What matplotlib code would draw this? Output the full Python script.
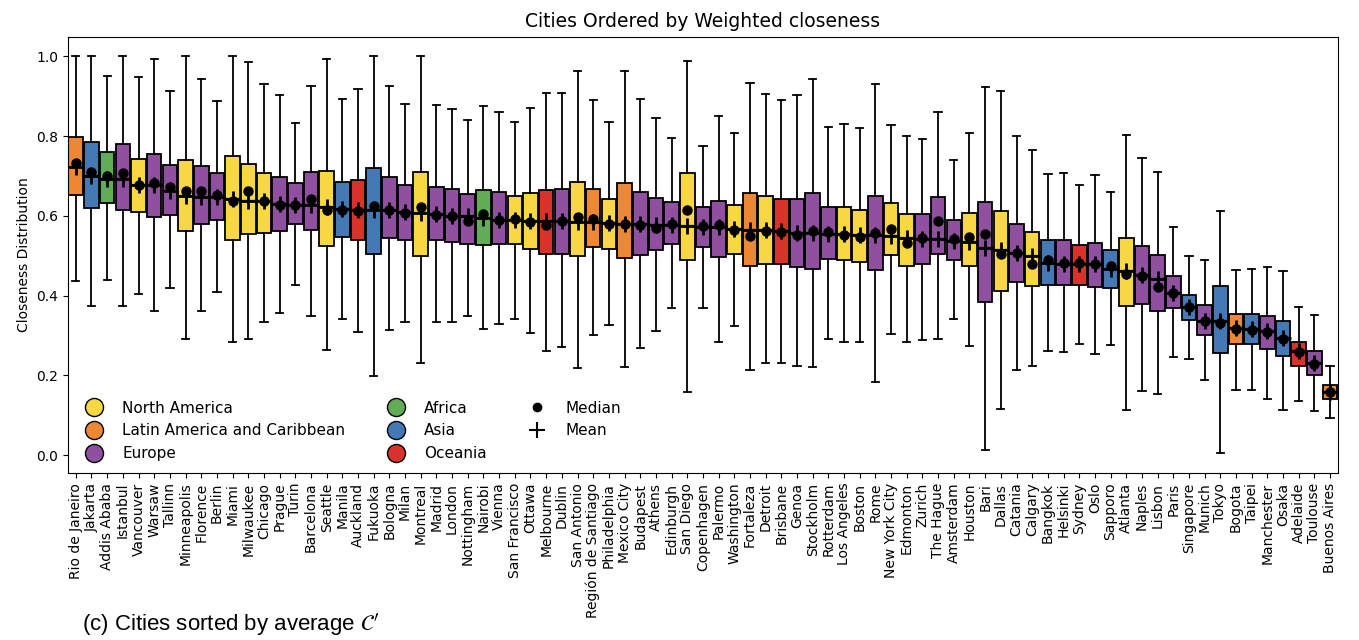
import matplotlib
matplotlib.use("Agg")
import matplotlib.pyplot as plt
from matplotlib.lines import Line2D

# cities in order (sorted by mean weighted closeness)
cities = ["Rio de Janeiro", "Jakarta", "Addis Ababa", "Istanbul", "Vancouver", "Warsaw", "Tallinn",
          "Minneapolis", "Florence", "Berlin", "Miami", "Milwaukee", "Chicago", "Prague", "Turin",
          "Barcelona", "Seattle", "Manila", "Auckland", "Fukuoka", "Bologna", "Milan", "Montreal",
          "Madrid", "London", "Nottingham", "Nairobi", "Vienna", "San Francisco", "Ottawa", "Melbourne",
          "Dublin", "San Antonio", "Región de Santiago", "Philadelphia", "Mexico City", "Budapest",
          "Athens", "Edinburgh", "San Diego", "Copenhagen", "Palermo", "Washington", "Fortaleza",
          "Detroit", "Brisbane", "Genoa", "Stockholm", "Rotterdam", "Los Angeles", "Boston", "Rome",
          "New York City", "Edmonton", "Zurich", "The Hague", "Amsterdam", "Houston", "Bari", "Dallas",
          "Catania", "Calgary", "Bangkok", "Helsinki", "Sydney", "Oslo", "Sapporo", "Atlanta", "Naples",
          "Lisbon", "Paris", "Singapore", "Munich", "Tokyo", "Bogota", "Taipei", "Manchester", "Osaka",
          "Adelaide", "Toulouse", "Buenos Aires"]

region = ["LA", "AS", "AF", "EU", "NA", "EU", "EU",
          "NA", "EU", "EU", "NA", "NA", "NA", "EU", "EU",
          "EU", "NA", "AS", "OC", "AS", "EU", "EU", "NA",
          "EU", "EU", "EU", "AF", "EU", "NA", "NA", "OC",
          "EU", "NA", "LA", "NA", "LA", "EU",
          "EU", "EU", "NA", "EU", "EU", "NA", "LA",
          "NA", "OC", "EU", "EU", "EU", "NA", "NA", "EU",
          "NA", "NA", "EU", "EU", "EU", "NA", "EU", "NA",
          "EU", "NA", "AS", "EU", "OC", "EU", "AS", "NA", "EU",
          "EU", "EU", "AS", "EU", "AS", "LA", "AS", "EU", "AS",
          "OC", "EU", "LA"]

whis_hi = [1.0, 1.0, .951, 1.0, .947, .993, .912, 1.0, .942, .888, 1.0, .985, .931, .904, .833,
           .926, .993, .893, .917, 1.0, .926, .881, 1.0, .878, .868, .839, .875, .860, .835, .870,
           .907, .909, .963, .891, .835, .963, .894, .845, .795, .988, .774, .851, .808, .933, .906,
           .890, .904, .943, .823, .830, .819, .931, .827, .801, .793, .860, .739, .808, .923, .912,
           .801, .764, .705, .707, .678, .701, .659, .802, .745, .710, .572, .498, .488, .613, .463,
           .467, .472, .461, .370, .350, .224]
q3 = [.797, .785, .759, .779, .743, .755, .727, .741, .726, .707, .751, .731, .707, .697, .681,
      .709, .712, .685, .689, .721, .696, .676, .709, .672, .666, .655, .665, .660, .649, .657,
      .664, .667, .684, .668, .643, .681, .659, .645, .635, .706, .622, .638, .626, .657, .649,
      .641, .642, .657, .623, .623, .615, .649, .631, .605, .604, .647, .590, .607, .634, .611,
      .580, .559, .539, .539, .526, .532, .513, .544, .525, .501, .450, .402, .375, .423, .354,
      .353, .348, .335, .283, .260, .175]
q1 = [.651, .620, .632, .615, .610, .597, .603, .563, .580, .590, .539, .555, .557, .561, .580,
      .565, .523, .547, .539, .503, .544, .540, .498, .539, .534, .530, .526, .528, .528, .517,
      .503, .505, .498, .522, .517, .493, .502, .513, .529, .488, .522, .497, .505, .475, .480,
      .479, .471, .467, .492, .488, .483, .463, .501, .475, .479, .505, .490, .475, .384, .411,
      .433, .423, .427, .427, .427, .421, .418, .373, .379, .362, .369, .338, .300, .256, .279,
      .279, .266, .248, .224, .200, .141]
whis_lo = [.436, .373, .440, .373, .405, .360, .419, .291, .360, .409, .283, .292, .333, .355, .426,
           .348, .264, .340, .309, .197, .313, .334, .231, .334, .334, .348, .317, .329, .342, .306,
           .262, .271, .219, .300, .325, .220, .268, .312, .369, .159, .369, .283, .323, .212, .231,
           .231, .224, .220, .292, .283, .283, .183, .304, .283, .289, .292, .341, .273, .013, .116,
           .214, .222, .260, .258, .278, .254, .275, .114, .160, .154, .246, .242, .189, .005, .164,
           .164, .141, .114, .136, .110, .093]
medians = [.733, .711, .699, .707, .676, .682, .672, .661, .661, .651, .638, .661, .638, .626, .626,
           .643, .614, .615, .611, .624, .614, .607, .622, .603, .599, .588, .605, .589, .593, .584,
           .578, .586, .596, .593, .580, .580, .576, .569, .580, .615, .574, .578, .565, .550, .561,
           .559, .553, .561, .559, .553, .546, .557, .568, .532, .544, .586, .542, .546, .555, .505,
           .507, .478, .488, .482, .482, .478, .473, .454, .448, .421, .406, .370, .335, .331, .316,
           .314, .308, .291, .258, .228, .158]
means = [.722, .699, .693, .692, .676, .676, .661, .649, .647, .646, .643, .636, .636, .629, .626,
         .626, .622, .617, .615, .614, .614, .610, .607, .605, .600, .599, .595, .590, .590, .586,
         .588, .586, .584, .584, .582, .580, .580, .578, .576, .574, .572, .571, .567, .565, .564,
         .562, .557, .557, .555, .554, .553, .552, .548, .543, .542, .541, .536, .535, .519, .515,
         .507, .498, .482, .479, .478, .478, .467, .461, .452, .441, .406, .370, .336, .335, .318,
         .316, .310, .294, .260, .232, .158]

region_names = {"NA": "North America", "LA": "Latin America and Caribbean", "EU": "Europe",
                "AF": "Africa", "AS": "Asia", "OC": "Oceania"}
region_colors = {"NA": "#F7D743", "LA": "#EE8732", "EU": "#8E509F",
                 "AF": "#62AC56", "AS": "#4479B5", "OC": "#D8322A"}

fig = plt.figure(figsize=(13.59, 6.4), dpi=100)
ax = fig.add_axes([0.050, 0.261, 0.9345, 0.681])

stats = []
for i in range(len(cities)):
    stats.append({"label": cities[i], "med": medians[i], "mean": means[i],
                  "q1": q1[i], "q3": q3[i], "whislo": whis_lo[i], "whishi": whis_hi[i],
                  "fliers": []})

pos = list(range(1, len(cities) + 1))
bp = ax.bxp(stats, positions=pos, widths=0.93, patch_artist=True, showmeans=True, meanline=True,
            boxprops=dict(edgecolor="black", linewidth=1.3),
            whiskerprops=dict(color="black", linewidth=1.3),
            capprops=dict(color="black", linewidth=1.3),
            medianprops=dict(linewidth=0),
            meanprops=dict(color="black", linestyle="-", linewidth=1.6))
for patch, r in zip(bp["boxes"], region):
    patch.set_facecolor(region_colors[r])

ax.plot(pos, medians, "o", color="black", markersize=6.5, zorder=5)
ax.plot(pos, means, "+", color="black", markersize=11, markeredgewidth=2, zorder=5)

ax.set_xlim(0.5, len(cities) + 0.5)
ax.set_ylim(-0.045, 1.048)
ax.set_xticks(pos)
ax.set_xticklabels(cities, rotation=90, fontsize=10)
ax.tick_params(axis="y", labelsize=10)
ax.set_ylabel("Closeness Distribution", fontsize=10)
ax.set_title("Cities Ordered by Weighted closeness", fontsize=13.5, pad=7)

handles = []
for key in ["NA", "LA", "EU", "AF", "AS", "OC"]:
    handles.append(Line2D([], [], linestyle="none", marker="o", markersize=13,
                          markerfacecolor=region_colors[key], markeredgecolor="black",
                          label=region_names[key]))
handles.append(Line2D([], [], linestyle="none", marker="o", markersize=6, color="black", label="Median"))
handles.append(Line2D([], [], linestyle="none", marker="+", markersize=12, markeredgewidth=1.5,
                      color="black", label="Mean"))
ax.legend(handles=handles, loc="lower left", ncol=3, frameon=False, fontsize=11,
          handletextpad=0.85, columnspacing=2.3, labelspacing=0.5,
          borderaxespad=0.3, bbox_to_anchor=(0.0, 0.003))

# subfigure caption (cut at the bottom in the original)
fig.text(0.060, 0.003, "(c) Cities sorted by average $\\mathcal{C}'$", fontsize=16,
         family="Liberation Sans", va="bottom")

fig.savefig("out.png", dpi=100)
